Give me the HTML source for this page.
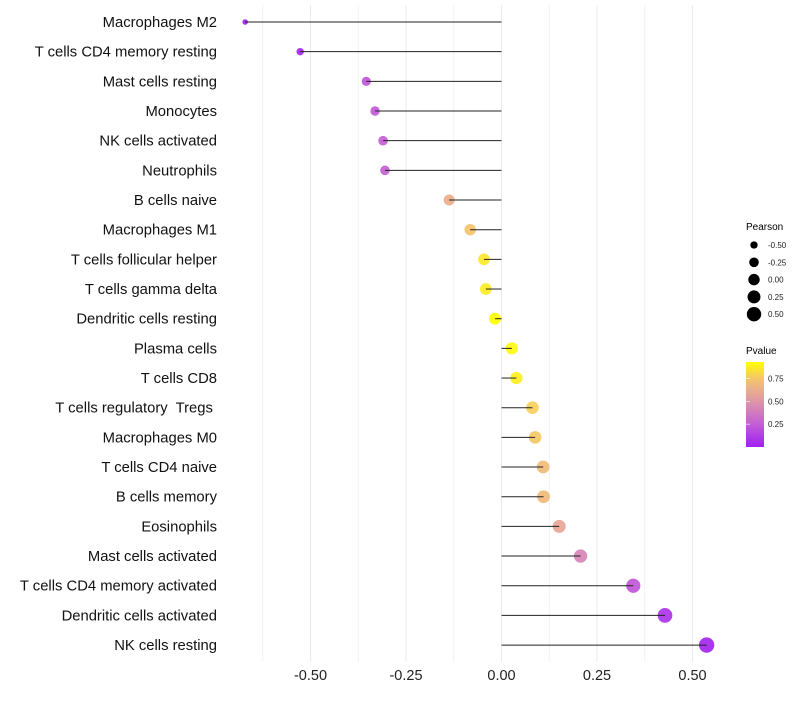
<!DOCTYPE html>
<html><head><meta charset="utf-8">
<style>
body{margin:0;background:#fff;}
svg text{font-family:"Liberation Sans",sans-serif;white-space:pre;}
</style></head>
<body>
<svg id="chart" width="800" height="700" xmlns="http://www.w3.org/2000/svg">
<defs>
<linearGradient id="pg" x1="0" y1="1" x2="0" y2="0">
<stop offset="0" stop-color="#a020f0"/>
<stop offset="0.27" stop-color="#c45ed6"/>
<stop offset="0.54" stop-color="#e096a8"/>
<stop offset="0.81" stop-color="#f5c66a"/>
<stop offset="1" stop-color="#ffff00"/>
</linearGradient>
</defs>
<g id="grid"></g>
<g id="marks"></g>
<g id="labels"></g>
<g id="legend">
<text x="746" y="230" font-size="10">Pearson</text>
<text x="746" y="354" font-size="10">Pvalue</text>
<rect x="746" y="362" width="18" height="85" fill="url(#pg)"/>
</g>
</svg>
<script>
const categories=["Macrophages M2","T cells CD4 memory resting","Mast cells resting","Monocytes","NK cells activated","Neutrophils","B cells naive","Macrophages M1","T cells follicular helper","T cells gamma delta","Dendritic cells resting","Plasma cells","T cells CD8","T cells regulatory  Tregs ","Macrophages M0","T cells CD4 naive","B cells memory","Eosinophils","Mast cells activated","T cells CD4 memory activated","Dendritic cells activated","NK cells resting"];
const pearson=[-0.671,-0.527,-0.354,-0.331,-0.310,-0.305,-0.137,-0.082,-0.046,-0.041,-0.017,0.027,0.039,0.081,0.088,0.109,0.110,0.151,0.207,0.345,0.428,0.537];
const pvalue=[0.01,0.03,0.22,0.24,0.26,0.27,0.62,0.74,0.86,0.87,0.93,0.91,0.88,0.78,0.76,0.70,0.69,0.58,0.42,0.22,0.08,0.02];
const xTicks=[-0.5,-0.25,0,0.25,0.5];
const xTickLabels=["-0.50","-0.25","0.00","0.25","0.50"];
const xMinor=[-0.625,-0.375,-0.125,0.125,0.375];
const sizeLegend=[-0.5,-0.25,0,0.25,0.5];
const sizeLegendLabels=["-0.50","-0.25","0.00","0.25","0.50"];
const colorTicks=[0.25,0.5,0.75];
const colorTickLabels=["0.25","0.50","0.75"];

const NS="http://www.w3.org/2000/svg";
const x=v=>501.5+v*382;
const y=i=>22+i*29.67;
const r=p=>Math.sqrt(Math.max(3,36+42*p));
const stops=[[0,[160,32,240]],[0.27,[196,94,214]],[0.54,[224,150,168]],[0.81,[245,198,106]],[1,[255,255,0]]];
function col(p){
  const t=Math.min(1,Math.max(0,p/0.93));
  for(let k=1;k<stops.length;k++){
    if(t<=stops[k][0]){const a=stops[k-1],b=stops[k];const f=(t-a[0])/(b[0]-a[0]);
      const c=a[1].map((v,j)=>Math.round(v+(b[1][j]-v)*f));return `rgb(${c.join(',')})`;}
  }
  return "rgb(255,255,0)";
}
function mk(tag,attrs,parent){const e=document.createElementNS(NS,tag);for(const k in attrs)e.setAttribute(k,attrs[k]);parent.appendChild(e);return e;}
const grid=document.getElementById('grid'),marks=document.getElementById('marks'),labels=document.getElementById('labels'),legend=document.getElementById('legend');
xMinor.forEach(v=>{
  const l=mk('line',{x1:x(v),x2:x(v),y1:5,y2:662,stroke:'#f2f2f2','stroke-width':1},grid);
  
  
});
xTicks.forEach((v,i)=>{
  const l=mk('line',{x1:x(v),x2:x(v),y1:5,y2:662,stroke:'#ebebeb','stroke-width':1},grid);
  
  
  const t=mk('text',{x:x(v),y:680,'font-size':14.5,'text-anchor':'middle',fill:'#222'},labels);
  t.textContent=xTickLabels[i];
  
  
});
categories.forEach((c,i)=>{
  const t=mk('text',{x:217,y:y(i)+5,'font-size':14.8,'text-anchor':'end',fill:'#111'},labels);
  t.textContent=c;
  
  
  const dot=mk('circle',{cx:x(pearson[i]),cy:y(i),r:r(pearson[i]),fill:col(pvalue[i]),'fill-opacity':0.92},marks);
  
  
  const ln=mk('line',{x1:x(0),x2:x(pearson[i]),y1:y(i),y2:y(i),stroke:'#222','stroke-width':1},marks);
  
  
});
sizeLegend.forEach((p,i)=>{
  const cy=245+i*17.3;
  const c=mk('circle',{cx:754,cy:cy,r:r(p)*0.95,fill:'#000'},legend);
  
  
  const t=mk('text',{x:768,y:cy+3,'font-size':8,fill:'#222'},legend);
  t.textContent=sizeLegendLabels[i];
  
  
});
colorTicks.forEach((v,i)=>{
  const cy=447-v/0.93*85;
  const t=mk('text',{x:768,y:cy+3,'font-size':8,fill:'#222'},legend);
  t.textContent=colorTickLabels[i];
  
  
  const l=mk('line',{x1:746,x2:750,y1:cy,y2:cy,stroke:'#fff','stroke-width':0.6},legend);
  
  
});
</script>
</body></html>
